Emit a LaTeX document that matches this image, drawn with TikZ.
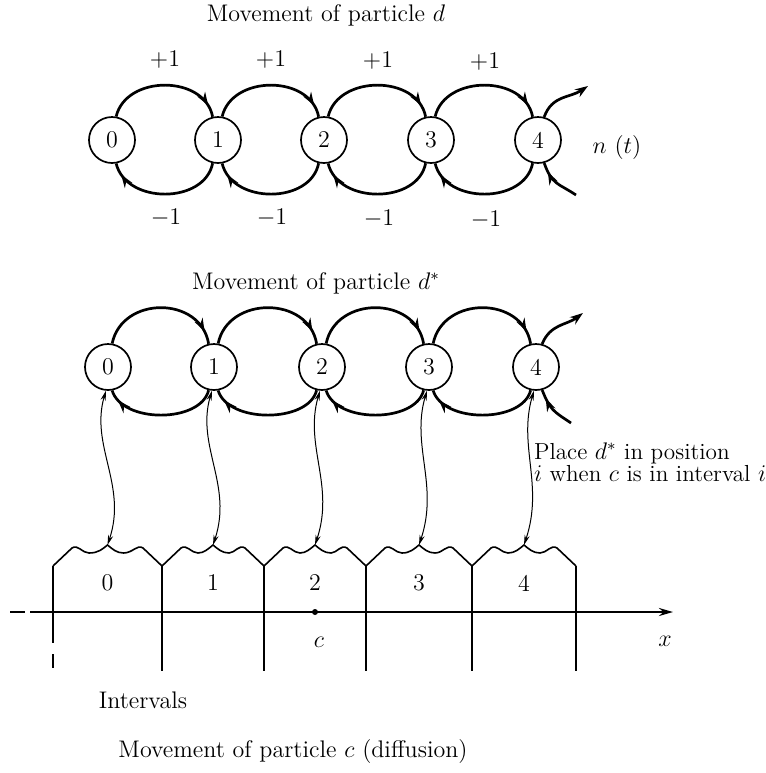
\documentclass[tikz,border=0pt]{standalone}
\usetikzlibrary{arrows.meta,decorations.markings,calc}
\begin{document}
\begin{tikzpicture}[x=0.5pt,y=-0.5pt,
  every node/.style={font=\fontsize{12}{13}\selectfont},
  st/.style={circle,draw,line width=0.85pt,minimum size=23pt,inner sep=0pt},
  arc/.style={line width=1.35pt,postaction={decorate},
    decoration={markings,mark=at position #1 with {\arrow{Stealth[length=6.5pt,width=4.5pt]}}}},
  arc/.default=0.9,
  outarc/.style={line width=1.35pt,-{Stealth[length=6.5pt,width=4.5pt]}},
  link/.style={line width=0.5pt,{Stealth[length=5pt,width=2.6pt]}-{Stealth[length=5pt,width=2.6pt]}},
  wave/.style={line width=0.8pt,line join=miter},
  divider/.style={line width=0.55pt},
  axis/.style={line width=1.1pt}]
\useasboundingbox (0,0) rectangle (766,773);

% ---------- top row ----------
\node (h1) at (326,15) {Movement of particle $d$};
\node[st] (t0) at (112,140) {0};
\node[st] (t1) at (218,140) {1};
\node[st] (t2) at (324,140) {2};
\node[st] (t3) at (431,140) {3};
\node[st] (t4) at (538,140) {4};
\foreach \a/\b in {0/1,1/2,2/3,3/4}{
  \draw[arc] (t\a.80) .. controls +(10,-42) and +(-8,-42) .. (t\b.103);
  \draw[arc] (t\b.-103) .. controls +(-8,41) and +(10,41) .. (t\a.-80);
}
\coordinate (to) at (588,86);
\coordinate (ti) at (576,195);
\draw[outarc] (t4.75) .. controls +(8,-22) and +(-18,12) .. (to);
\draw[arc=0.8] (ti) .. controls +(-18,-12) and +(8,22) .. (t4.-75);
\node (p1) at (165,60) {$+1$};
\node (p2) at (271,60) {$+1$};
\node (p3) at (378,61) {$+1$};
\node (p4) at (485,62) {$+1$};
\node (q1) at (166,218) {$-1$};
\node (q2) at (272,218) {$-1$};
\node (q3) at (379,219) {$-1$};
\node (q4) at (486,220) {$-1$};
\node (nt) at (617,147) {$n$ $(t)$};

% ---------- middle row ----------
\node (h2) at (316,283) {Movement of particle $d^*$};
\node[st] (m0) at (108,367) {0};
\node[st] (m1) at (214,367) {1};
\node[st] (m2) at (322,367) {2};
\node[st] (m3) at (429,367) {3};
\node[st] (m4) at (536,367) {4};
\foreach \a/\b in {0/1,1/2,2/3,3/4}{
  \draw[arc] (m\a.80) .. controls +(10,-48) and +(-8,-48) .. (m\b.103);
  \draw[arc] (m\b.-103) .. controls +(-8,33) and +(10,33) .. (m\a.-80);
}
\coordinate (mo) at (583,313);
\coordinate (mi) at (571,423);
\draw[outarc] (m4.75) .. controls +(8,-20) and +(-16,12) .. (mo);
\draw[arc=0.8] (mi) .. controls +(-18,-12) and +(8,20) .. (m4.-75);
\node[anchor=west,align=left,font=\fontsize{11.6}{11}\selectfont] (pl) at (527,462)
  {Place $d^*$ in position\\ $i$ when $c$ is in interval $i$};

% ---------- intervals ----------
\foreach \xl/\xr/\k in {53/162/0,162/264/1,264/366/2,366/472/3,472/576/4}{
  \pgfmathsetmacro{\xc}{(\xl+\xr)/2}
  \draw[wave] (\xl,566) -- (\xl+19,548)
     .. controls (\xl+25,544) and (\xl+29,553) .. (\xl+36,553)
     .. controls (\xc-9,553) and (\xc-5,549) .. (\xc,545)
     .. controls (\xc+5,549) and (\xc+9,553) .. (\xc+16,553)
     .. controls (\xr-29,553) and (\xr-25,544) .. (\xr-19,548) -- (\xr,566);
  \coordinate (iv\k) at (\xc,545);
  \node (il\k) at (\xc,583) {\k};
}
\foreach \k in {0,...,4}{
  \draw[link] (m\k.-95) .. controls +(-16,55) and +(20,-60) .. (iv\k);
}
\draw[divider] (53,566) -- (53,643);
\draw[divider] (53,654) -- (53,668);
\foreach \x in {162,264,366,472,576}{
  \draw[divider] (\x,566) -- (\x,671);
}
\draw[axis] (10,612) -- (25,612);
\draw[axis,-{Stealth[length=7pt,width=4pt]}] (30,612) -- (673,612);
\node[circle,fill,inner sep=0pt,minimum size=3pt] (cdot) at (315,612) {};
\node (clbl) at (319,642) {$c$};
\node (xlbl) at (665,641) {$x$};
\node (intv) at (143,700) {Intervals};
\node (h3) at (293,752) {Movement of particle $c$ (diffusion)};
\end{tikzpicture}
\end{document}
